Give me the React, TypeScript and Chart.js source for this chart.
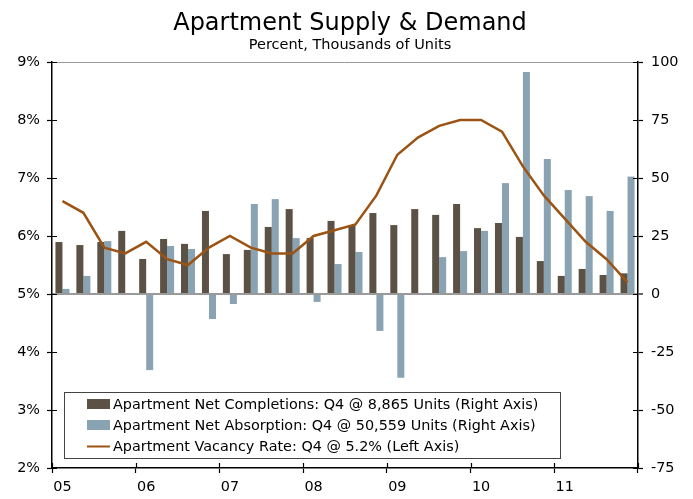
import { useEffect, useRef } from 'react';
import { Chart, registerables } from 'chart.js';

Chart.register(...registerables);

const quarters = [
  '05Q1', '05Q2', '05Q3', '05Q4', '06Q1', '06Q2', '06Q3', '06Q4',
  '07Q1', '07Q2', '07Q3', '07Q4', '08Q1', '08Q2', '08Q3', '08Q4',
  '09Q1', '09Q2', '09Q3', '09Q4', '10Q1', '10Q2', '10Q3', '10Q4',
  '11Q1', '11Q2', '11Q3', '11Q4',
];
const yearLabels = [
  '05', '', '', '', '06', '', '', '', '07', '', '', '', '08', '', '', '',
  '09', '', '', '', '10', '', '', '', '11', '', '', '',
];
const completions = [
  22.4, 21.1, 22.4, 27.2, 15.1, 23.7, 21.6, 35.8, 17.2, 19.0, 28.9, 36.6, 24.1, 31.5,
  29.7, 34.9, 29.7, 36.6, 34.1, 38.8, 28.4, 30.6, 24.6, 14.2, 7.8, 10.8, 8.2, 8.9,
];
const absorption = [
  2.2, 7.8, 22.8, 0.4, -32.8, 20.7, 19.4, -10.8, -4.3, 38.8, 40.9, 24.1, -3.4, 12.9,
  18.1, -15.9, -36.1, 0.4, 15.9, 18.5, 27.2, 47.8, 95.7, 58.2, 44.8, 42.2, 35.8, 50.6,
];
const vacancy = [
  6.6, 6.4, 5.8, 5.7, 5.9, 5.6, 5.5, 5.8, 6.0, 5.8, 5.7, 5.7, 6.0, 6.1,
  6.2, 6.7, 7.4, 7.7, 7.9, 8.0, 8.0, 7.8, 7.2, 6.7, 6.3, 5.9, 5.6, 5.2,
];
const seriesNames = [
  'Apartment Net Completions: Q4 @ 8,865 Units (Right Axis)',
  'Apartment Net Absorption: Q4 @ 50,559 Units (Right Axis)',
  'Apartment Vacancy Rate: Q4 @ 5.2% (Left Axis)',
];
const titleText = 'Apartment Supply & Demand';
const subtitleText = 'Percent, Thousands of Units';

const FONT = '"DejaVu Sans", Verdana, sans-serif';
const C_COMP = '#5c5145';
const C_ABS = '#8aa3b2';
const C_VAC = '#9c5414';

const decorPlugin = {
  id: 'decor',
  afterDraw(chart: any) {
    const ctx = chart.ctx;
    const area = chart.chartArea;
    const ys = chart.scales.y;
    const y1 = chart.scales.y1;
    const xs = chart.scales.x;
    ctx.save();
    // inner halves of the tick marks
    ctx.strokeStyle = '#000';
    ctx.lineWidth = 1.2;
    ctx.beginPath();
    ys.ticks.forEach((t: any) => {
      const py = Math.round(ys.getPixelForValue(t.value)) + 0.5;
      ctx.moveTo(area.left, py);
      ctx.lineTo(area.left + 5, py);
    });
    y1.ticks.forEach((t: any) => {
      const py = Math.round(y1.getPixelForValue(t.value)) + 0.5;
      ctx.moveTo(area.right - 5, py);
      ctx.lineTo(area.right, py);
    });
    for (let i = 0; i <= quarters.length; i += 4) {
      const px = Math.round(xs.getPixelForValue(i - 0.5)) + 0.5;
      ctx.moveTo(px, area.bottom);
      ctx.lineTo(px, area.bottom - 5);
    }
    ctx.stroke();

    // title
    ctx.fillStyle = '#000';
    ctx.textAlign = 'center';
    ctx.textBaseline = 'alphabetic';
    ctx.font = `24px ${FONT}`;
    ctx.fillText(titleText, 350, 30);
    ctx.font = `14.5px ${FONT}`;
    ctx.fillText(subtitleText, 350, 49);

    // legend
    const lx = 64, ly = 392, lw = 496, lh = 66;
    ctx.fillStyle = '#fff';
    ctx.fillRect(lx, ly, lw, lh);
    ctx.strokeStyle = '#444';
    ctx.lineWidth = 1;
    ctx.strokeRect(lx + 0.5, ly + 0.5, lw, lh);
    const ds = chart.data.datasets;
    const order = [1, 2, 0];
    ctx.font = `14.4px ${FONT}`;
    ctx.textAlign = 'left';
    ctx.textBaseline = 'middle';
    order.forEach((di, row) => {
      const d = ds[di];
      const cy = 404 + row * 21;
      if (d.type === 'line') {
        ctx.strokeStyle = d.borderColor;
        ctx.lineWidth = 2;
        ctx.beginPath();
        ctx.moveTo(87, cy + 0.5);
        ctx.lineTo(110, cy + 0.5);
        ctx.stroke();
      } else {
        ctx.fillStyle = d.backgroundColor;
        ctx.fillRect(87, cy - 5, 23, 10);
      }
      ctx.fillStyle = '#000';
      ctx.fillText(d.label, 113, cy + 1);
    });
    ctx.restore();
  },
};

export default function App() {
  const ref = useRef<HTMLCanvasElement | null>(null);
  useEffect(() => {
    if (!ref.current) return;
    const chart = new Chart(ref.current, {
      data: {
        labels: quarters,
        datasets: [
          {
            type: 'line',
            label: seriesNames[2],
            data: vacancy,
            yAxisID: 'y',
            borderColor: C_VAC,
            backgroundColor: C_VAC,
            borderWidth: 2.5,
            pointRadius: 0,
            tension: 0,
            order: 0,
          },
          {
            type: 'bar',
            label: seriesNames[0],
            data: completions,
            yAxisID: 'y1',
            backgroundColor: C_COMP,
            categoryPercentage: 0.67,
            barPercentage: 1,
            order: 1,
          },
          {
            type: 'bar',
            label: seriesNames[1],
            data: absorption,
            yAxisID: 'y1',
            backgroundColor: C_ABS,
            categoryPercentage: 0.67,
            barPercentage: 1,
            order: 1,
          },
        ],
      } as any,
      plugins: [decorPlugin],
      options: {
        animation: false,
        responsive: true,
        maintainAspectRatio: false,
        layout: { padding: { top: 62, left: 0, right: 0, bottom: 0 } },
        plugins: {
          legend: { display: false },
          title: { display: false },
          tooltip: { enabled: false },
        },
        scales: {
          x: {
            type: 'category',
            offset: true,
            afterFit: (s: any) => { s.height = 31; },
            grid: {
              offset: true,
              drawOnChartArea: false,
              drawTicks: true,
              tickLength: 5,
              tickWidth: 1.2,
              tickColor: (c: any) => (c.index === undefined || c.index % 4 === 0 ? '#000' : 'rgba(0,0,0,0)'),
            },
            border: { color: '#000', width: 1.5 },
            ticks: {
              autoSkip: false,
              maxRotation: 0,
              minRotation: 0,
              padding: 6,
              color: '#000',
              font: { family: FONT, size: 14.4 },
              callback: (_v: any, i: number) => yearLabels[i],
            },
          },
          y: {
            type: 'linear',
            position: 'left',
            min: 2,
            max: 9,
            afterFit: (s: any) => { s.width = 52; },
            grid: { drawOnChartArea: false, tickLength: 5, tickWidth: 1.2, tickColor: '#000' },
            border: { color: '#000', width: 1.5 },
            ticks: {
              stepSize: 1,
              padding: 7,
              color: '#000',
              font: { family: FONT, size: 14.4 },
              callback: (v: any) => `${v}%`,
            },
          },
          y1: {
            type: 'linear',
            position: 'right',
            min: -75,
            max: 100,
            afterFit: (s: any) => { s.width = 55; },
            grid: {
              drawOnChartArea: true,
              tickLength: 5,
              tickWidth: 1.2,
              tickColor: '#000',
              lineWidth: (c: any) => (c.tick && c.tick.value === 0 ? 2 : 1),
              color: (c: any) => (c.tick && (c.tick.value === 0 || c.tick.value === 100) ? '#9a9a9a' : 'rgba(0,0,0,0)'),
            },
            border: { color: '#000', width: 1.5 },
            ticks: {
              stepSize: 25,
              padding: 8,
              color: '#000',
              font: { family: FONT, size: 14.4 },
            },
          },
        },
      } as any,
    });
    return () => chart.destroy();
  }, []);
  return (
    <div style={{ position: 'fixed', left: 0, top: 0, width: 693, height: 499, background: '#fff' }}>
      <canvas ref={ref} />
    </div>
  );
}
